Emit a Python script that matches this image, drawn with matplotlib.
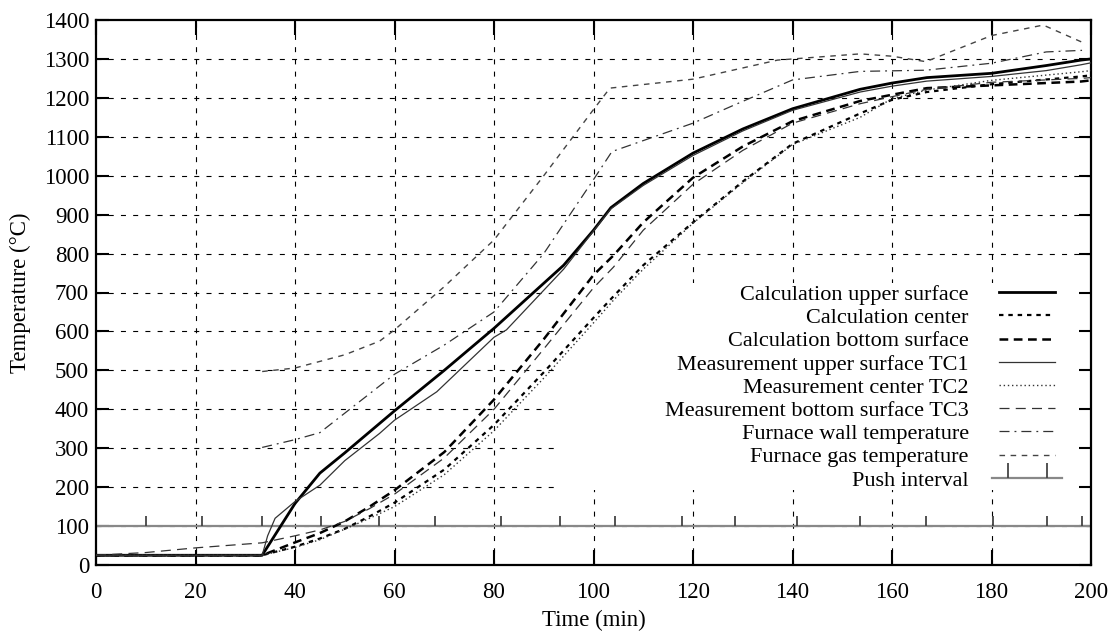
import numpy as np
import matplotlib
matplotlib.use("Agg")
import matplotlib.pyplot as plt
from matplotlib.lines import Line2D
from matplotlib.path import Path
from matplotlib.patches import Rectangle
from matplotlib.legend_handler import HandlerLine2DCompound

plt.rcParams['font.family'] = ['Liberation Serif', 'DejaVu Serif']

# --- data (time in min, temperature in degC) ---
calc_upper_t = [0, 33.4, 40, 45, 50, 60, 70, 80, 94, 100, 103.5, 110, 120, 130, 140, 153.6, 160, 167, 180, 191, 198, 200]
calc_upper_T = [25, 25, 158, 236, 288, 396, 500, 608, 770, 860, 918, 980, 1058, 1120, 1172, 1222, 1238, 1252, 1263, 1283, 1297, 1300]

calc_center_t = [0, 33.4, 40, 45, 50, 55, 60, 70, 80, 90, 100, 104, 110, 120, 130, 140, 153.6, 160, 167, 180, 198, 200]
calc_center_T = [25, 25, 47, 68, 93, 125, 160, 245, 360, 495, 635, 690, 770, 880, 985, 1082, 1160, 1195, 1215, 1235, 1255, 1258]

calc_bottom_t = [0, 33.4, 40, 45, 50, 55, 60, 70, 80, 90, 100, 104, 110, 120, 130, 140, 153.6, 160, 167, 180, 198, 200]
calc_bottom_T = [25, 25, 58, 82, 112, 150, 192, 290, 425, 580, 745, 795, 880, 995, 1075, 1140, 1192, 1208, 1225, 1232, 1242, 1245]

tc1_t = [0, 33.4, 34.5, 36, 40, 45, 50, 57, 60, 68.5, 80, 82.5, 94, 100, 103.5, 110, 120, 130, 140, 153.6, 160, 167, 180, 191, 198, 200]
tc1_T = [25, 25, 75, 120, 163, 205, 268, 338, 372, 445, 585, 604, 760, 858, 915, 975, 1052, 1115, 1168, 1215, 1230, 1243, 1255, 1270, 1285, 1290]

tc2_t = [0, 33.4, 40, 45, 50, 55, 60, 70, 80, 90, 100, 104, 110, 120, 130, 140, 153.6, 160, 167, 180, 198, 200]
tc2_T = [25, 25, 45, 65, 92, 120, 150, 232, 345, 480, 622, 680, 760, 878, 982, 1080, 1150, 1198, 1220, 1245, 1267, 1270]

tc3_t = [0, 10, 20, 33.4, 40, 45, 50, 55, 60, 70, 80, 90, 100, 104, 110, 120, 130, 140, 153.6, 160, 167, 180, 198, 200]
tc3_T = [25, 32, 44, 57, 75, 90, 112, 145, 182, 275, 400, 555, 712, 765, 860, 978, 1065, 1135, 1185, 1203, 1222, 1240, 1250, 1252]

wall_t = [33.4, 40, 45, 50, 60, 70, 80, 90, 100, 103.7, 120, 128, 140, 153.6, 166.8, 180, 191, 198.2]
wall_T = [302, 322, 340, 390, 490, 565, 650, 800, 990, 1062, 1135, 1180, 1246, 1268, 1271, 1289, 1318, 1322]

gas_t = [33.4, 40, 50, 57, 60, 70, 80, 90, 100, 103.3, 120, 137, 153.6, 160, 166.8, 180, 190.4, 198.2]
gas_T = [497, 506, 540, 575, 604, 715, 835, 1000, 1170, 1225, 1248, 1297, 1313, 1307, 1293, 1360, 1387, 1343]

push_times = [10, 21.3, 33.4, 45.2, 56.9, 68.1, 81.5, 93.3, 104.3, 117.8, 128.4, 141, 153.6, 166.8, 180.3, 191.2, 198.2]
push_level = 100

labels = ['Calculation upper surface', 'Calculation center', 'Calculation bottom surface',
          'Measurement upper surface TC1', 'Measurement center TC2', 'Measurement bottom surface TC3',
          'Furnace wall temperature', 'Furnace gas temperature', 'Push interval']


class PushHandler(HandlerLine2DCompound):
    # full-length line in the key, two ticks set in from the ends
    def get_xdata(self, legend, xdescent, ydescent, width, height, fontsize):
        pad = 0.7 * fontsize
        xline = np.array([-xdescent, -xdescent + width])
        xmark = np.array([-xdescent + pad, -xdescent + width - pad])
        return xline, xmark


fig = plt.figure(figsize=(11.2, 6.33), dpi=100)
ax = fig.add_axes([96 / 1120, 1 - 565 / 633, 995 / 1120, 545 / 633])

# grid (drawn by hand so the key area can blank it out)
for xv in range(20, 200, 20):
    ax.axvline(xv, color='black', lw=0.8, ls=(0, (4.5, 6.5)), zorder=0.5)
for yv in range(100, 1400, 100):
    ax.axhline(yv, color='black', lw=0.8, ls=(0, (4.5, 6.5)), zorder=0.5)
ax.add_patch(Rectangle((0.466, 0.138), 0.534, 0.379, transform=ax.transAxes,
                       facecolor='white', edgecolor='none', zorder=1))

tick_up = Path([(0, 0), (0, 1)], [Path.MOVETO, Path.LINETO])

l1, = ax.plot(calc_upper_t, calc_upper_T, color='black', lw=2.0, zorder=3)
l2, = ax.plot(calc_center_t, calc_center_T, color='black', lw=1.6, ls=(0, (2.0, 2.2)), zorder=3)
l3, = ax.plot(calc_bottom_t, calc_bottom_T, color='black', lw=1.8, ls=(0, (3.5, 2.2)), zorder=3)
l4, = ax.plot(tc1_t, tc1_T, color='#333333', lw=0.9, zorder=3)
l5, = ax.plot(tc2_t, tc2_T, color='#333333', lw=1.0, ls=(0, (1, 2)), zorder=3)
l6, = ax.plot(tc3_t, tc3_T, color='#333333', lw=0.9, ls=(0, (8, 5)), zorder=3)
l7, = ax.plot(wall_t, wall_T, color='#333333', lw=0.9, ls=(0, (8, 4, 1.5, 4)), zorder=3)
l8, = ax.plot(gas_t, gas_T, color='#444444', lw=1.0, ls=(0, (4, 4)), zorder=3)
ax.plot([0, 200], [push_level, push_level], color='#888888', lw=1.6, zorder=2)
ax.plot(push_times, [push_level] * len(push_times), ls='none', marker=tick_up, ms=15,
        mew=1.3, mec='#444444', zorder=2)
l9 = Line2D([], [], color='#888888', lw=1.6, marker=tick_up, ms=21, mew=1.3, mec='#444444')

ax.set_xlim(0, 200)
ax.set_ylim(0, 1400)
ax.set_xticks(range(0, 201, 20))
ax.set_yticks(range(0, 1401, 100))
ax.tick_params(axis='both', which='major', direction='in', top=True, right=True,
               width=1.5, labelsize=16.5)
ax.tick_params(axis='x', length=11, pad=12)
ax.tick_params(axis='y', length=9, pad=5)
for s in ax.spines.values():
    s.set_linewidth(1.6)

ax.set_xlabel('Time (min)', fontsize=16.5, labelpad=5)
ax.set_ylabel('Temperature (°C)', fontsize=16.5, labelpad=9)

leg = ax.legend([l1, l2, l3, l4, l5, l6, l7, l8, l9], labels, loc='upper right',
                bbox_to_anchor=(0.971, 0.515), frameon=False, markerfirst=False,
                fontsize=16, handlelength=3.15, handletextpad=1.05, labelspacing=0.12,
                borderpad=0, borderaxespad=0, numpoints=2,
                handler_map={l9: PushHandler(numpoints=2)})
for t in leg.get_texts():
    t.set_ha('right')
leg.set_zorder(4)

fig.savefig('out.png', dpi=100)
